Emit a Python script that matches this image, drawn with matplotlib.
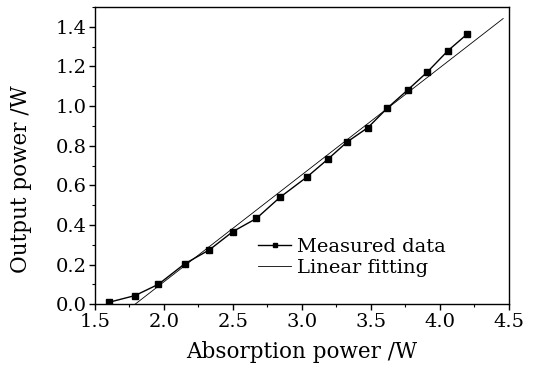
import numpy as np
import matplotlib
matplotlib.use("Agg")
import matplotlib.pyplot as plt
from matplotlib.ticker import MultipleLocator

absorption = [1.60, 1.79, 1.96, 2.15, 2.33, 2.50, 2.67, 2.84, 3.04, 3.19,
              3.33, 3.48, 3.62, 3.77, 3.91, 4.06, 4.20]
output = [0.010, 0.044, 0.101, 0.204, 0.275, 0.367, 0.433, 0.539, 0.644, 0.733,
          0.820, 0.892, 0.990, 1.083, 1.172, 1.280, 1.364]

fit_x = [1.79, 4.46]
fit_slope = 0.54
fit_x0 = 1.79

plt.rcParams["font.family"] = ["DejaVu Serif"]

fig = plt.figure(figsize=(5.33, 3.65), dpi=100)
ax = fig.add_axes([95/533, 1 - 304.3/365, (508.7-95)/533, (304.3-7)/365])

ax.plot(absorption, output, color="black", lw=1.0, marker="s", ms=4.6,
        label="Measured data")
fx = np.array(fit_x)
ax.plot(fx, fit_slope * (fx - fit_x0), color="black", lw=0.6, label="Linear fitting")

ax.set_xlim(1.5, 4.5)
ax.set_ylim(0.0, 1.5)
ax.xaxis.set_major_locator(MultipleLocator(0.5))
ax.xaxis.set_minor_locator(MultipleLocator(0.25))
ax.set_yticks(np.arange(0, 1.41, 0.2))
ax.set_yticks(np.arange(0, 1.51, 0.1), minor=True)
ax.xaxis.set_major_formatter(plt.FormatStrFormatter("%.1f"))
ax.yaxis.set_major_formatter(plt.FormatStrFormatter("%.1f"))
ax.tick_params(which="major", direction="out", length=4, width=1, labelsize=14, pad=2)
ax.tick_params(which="minor", direction="out", length=2.5, width=0.8)
for s in ax.spines.values():
    s.set_linewidth(1.0)

ax.set_xlabel("Absorption power /W", fontsize=15.5)
ax.set_ylabel("Output power /W", fontsize=15.5)
ax.xaxis.set_label_coords(0.5, (304.3 - 341) / 297.3)
ax.yaxis.set_label_coords((32 - 95) / 413.7, (304.3 - 179) / 297.3)

ax.legend(loc="upper left", bbox_to_anchor=((258 - 95) / 413.7, (304.3 - 238) / 297.3),
          frameon=False, fontsize=14, markerscale=0.6,
          handlelength=1.7, handletextpad=0.3, labelspacing=0.15, borderaxespad=0,
          borderpad=0)

fig.savefig("out.png", dpi=100)
